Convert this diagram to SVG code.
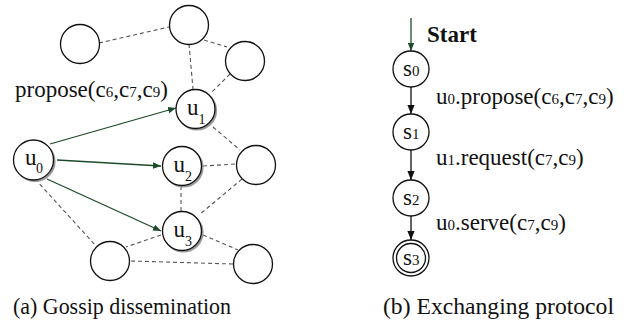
<svg xmlns="http://www.w3.org/2000/svg" width="627" height="326" viewBox="0 0 627 326">
  <style>
    .node { fill: #fff; stroke: #111; stroke-width: 1.3; }
    .shadow { fill: none; stroke: #9a9a9a; stroke-width: 2.2; }
    .gossip { stroke: #555; stroke-width: 1.1; stroke-dasharray: 4 3; fill: none; }
    .send { stroke: #1d4a2c; stroke-width: 1.3; fill: none; marker-end: url(#gh); }
    .step { stroke: #111; stroke-width: 1.3; fill: none; marker-end: url(#bh); }
  </style>
  <defs>
    <marker id="gh" viewBox="0 0 10 10" refX="10" refY="5" markerWidth="8" markerHeight="8" markerUnits="userSpaceOnUse" orient="auto">
      <path d="M0,1 L10,5 L0,9 z" fill="#1d4a2c"/>
    </marker>
    <marker id="bh" viewBox="0 0 10 10" refX="10" refY="5" markerWidth="9" markerHeight="9" markerUnits="userSpaceOnUse" orient="auto">
      <path d="M0,1 L10,5 L0,9 z" fill="#111"/>
    </marker>
  </defs>

  <!-- gossip overlay links -->
  <g id="connectors">
    <line class="gossip" x1="99" y1="43" x2="169" y2="27"/>
    <line class="gossip" x1="204" y1="40" x2="227" y2="47"/>
    <line class="gossip" x1="189" y1="44" x2="193" y2="89"/>
    <line class="gossip" x1="230" y1="74" x2="211" y2="93"/>
    <line class="gossip" x1="213" y1="127" x2="240" y2="150"/>
    <line class="gossip" x1="203" y1="166" x2="236" y2="164"/>
    <line class="gossip" x1="181" y1="186" x2="181" y2="212"/>
    <line class="gossip" x1="242" y1="179" x2="199" y2="215"/>
    <line class="gossip" x1="203" y1="235" x2="238" y2="250"/>
    <line class="gossip" x1="161" y1="235" x2="126" y2="247"/>
    <line class="gossip" x1="131" y1="261" x2="233" y2="264"/>
    <line class="gossip" x1="35" y1="179" x2="97" y2="247"/>
    <!-- proposals sent by u0 -->
    <line class="send" x1="50" y1="144" x2="176" y2="108"/>
    <line class="send" x1="57" y1="160" x2="161" y2="166"/>
    <line class="send" x1="47" y1="179" x2="161" y2="231"/>
    <!-- protocol transitions -->
    <line class="send" x1="411" y1="18" x2="411" y2="51"/>
    <line class="step" x1="411" y1="87" x2="411" y2="114"/>
    <line class="step" x1="411" y1="150" x2="411" y2="180"/>
    <line class="step" x1="411" y1="216" x2="411" y2="240"/>
  </g>

  <!-- (a) gossip dissemination -->
  <g id="n-topleft"><circle class="node" cx="80" cy="44" r="19.5"/></g>
  <g id="n-top"><circle class="node" cx="189" cy="25" r="19.5"/></g>
  <g id="n-topright"><circle class="node" cx="245" cy="61" r="19.5"/></g>
  <g id="n-midright"><circle class="node" cx="256" cy="165" r="19.5"/></g>
  <g id="n-botleft"><circle class="node" cx="110" cy="261" r="19.5"/></g>
  <g id="n-botright"><circle class="node" cx="253" cy="264" r="19.5"/></g>

  <g id="u0">
    <circle class="shadow" cx="35" cy="161.5" r="19.5"/>
    <circle class="node" cx="33.5" cy="160" r="20"/>
    <text font-family="Liberation Serif" font-size="23" fill="#111" x="25" y="165">u</text>
    <text font-family="Liberation Serif" font-size="14" fill="#111" x="36" y="173">0</text>
  </g>
  <g id="u1">
    <circle class="shadow" cx="197" cy="110.5" r="19"/>
    <circle class="node" cx="195.5" cy="109" r="19.5"/>
    <text font-family="Liberation Serif" font-size="23" fill="#111" x="187" y="115">u</text>
    <text font-family="Liberation Serif" font-size="14" fill="#111" x="198.5" y="124">1</text>
  </g>
  <g id="u2">
    <circle class="shadow" cx="183.5" cy="167.5" r="19"/>
    <circle class="node" cx="182" cy="166" r="19.5"/>
    <text font-family="Liberation Serif" font-size="23" fill="#111" x="173.5" y="172">u</text>
    <text font-family="Liberation Serif" font-size="14" fill="#111" x="185" y="181">2</text>
  </g>
  <g id="u3">
    <circle class="shadow" cx="183.5" cy="232.5" r="19"/>
    <circle class="node" cx="182" cy="231" r="19.5"/>
    <text font-family="Liberation Serif" font-size="23" fill="#111" x="173.5" y="237">u</text>
    <text font-family="Liberation Serif" font-size="14" fill="#111" x="185" y="246">3</text>
  </g>

  <text font-family="Liberation Serif" font-size="23" fill="#111" x="15" y="97">propose(c<tspan font-size="15">6</tspan>,c<tspan font-size="15">7</tspan>,c<tspan font-size="15">9</tspan>)</text>

  <!-- (b) exchanging protocol -->
  <text font-family="Liberation Serif" font-size="23" font-weight="bold" fill="#111" x="427" y="42">Start</text>
  <g id="s0">
    <circle class="node" cx="411" cy="69" r="18"/>
    <text font-family="Liberation Serif" font-size="23" fill="#111" x="403" y="76">s<tspan font-size="15">0</tspan></text>
  </g>
  <g id="s1">
    <circle class="node" cx="411" cy="132" r="18"/>
    <text font-family="Liberation Serif" font-size="23" fill="#111" x="403" y="139">s<tspan font-size="15">1</tspan></text>
  </g>
  <g id="s2">
    <circle class="node" cx="411" cy="198" r="18"/>
    <text font-family="Liberation Serif" font-size="23" fill="#111" x="403" y="205">s<tspan font-size="15">2</tspan></text>
  </g>
  <g id="s3">
    <circle class="node" cx="411" cy="258" r="18"/>
    <circle class="node" cx="411" cy="258" r="14.5"/>
    <text font-family="Liberation Serif" font-size="23" fill="#111" x="403" y="265">s<tspan font-size="15">3</tspan></text>
  </g>

  <text font-family="Liberation Serif" font-size="23" fill="#111" x="436" y="104">u<tspan font-size="15">0</tspan>.propose(c<tspan font-size="15">6</tspan>,c<tspan font-size="15">7</tspan>,c<tspan font-size="15">9</tspan>)</text>
  <text font-family="Liberation Serif" font-size="23" fill="#111" x="436" y="165">u<tspan font-size="15">1</tspan>.request(c<tspan font-size="15">7</tspan>,c<tspan font-size="15">9</tspan>)</text>
  <text font-family="Liberation Serif" font-size="23" fill="#111" x="436" y="230">u<tspan font-size="15">0</tspan>.serve(c<tspan font-size="15">7</tspan>,c<tspan font-size="15">9</tspan>)</text>

  <!-- captions -->
  <text font-family="Liberation Serif" font-size="23" fill="#111" x="13" y="314" textLength="218" lengthAdjust="spacingAndGlyphs">(a) Gossip dissemination</text>
  <text font-family="Liberation Serif" font-size="23" fill="#111" x="383" y="314" textLength="231" lengthAdjust="spacingAndGlyphs">(b) Exchanging protocol</text>
</svg>
